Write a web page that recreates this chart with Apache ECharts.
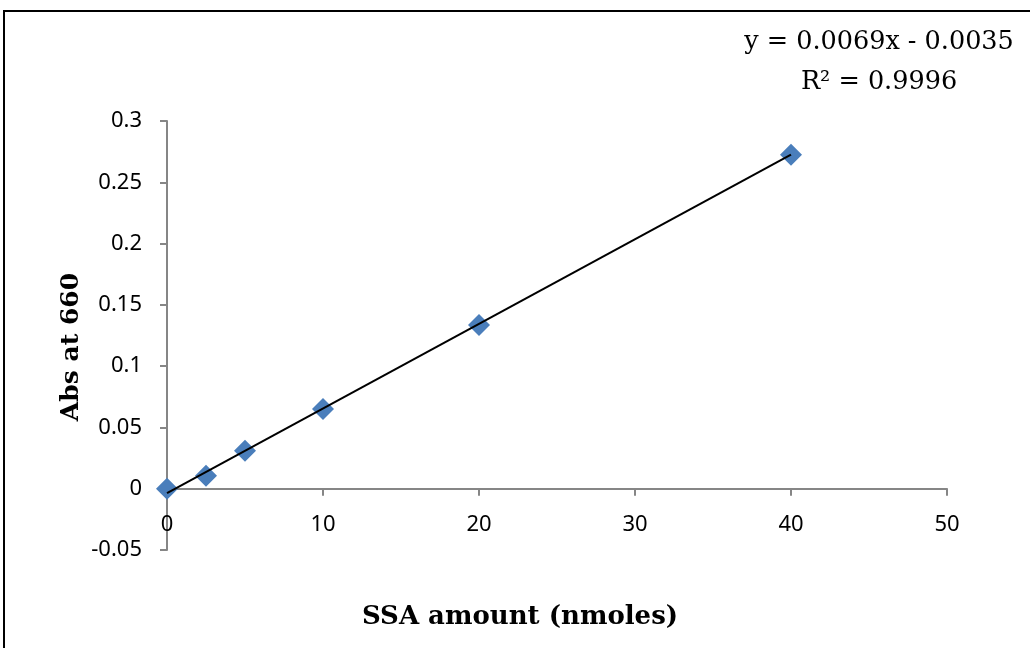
<!DOCTYPE html>
<html><head><meta charset="utf-8">
<script src="https://cdn.jsdelivr.net/npm/echarts@6/dist/echarts.min.js"></script>
<style>html,body{margin:0;padding:0;background:#fff}#c{width:1030px;height:648px}</style>
</head><body><div id="c"></div>
<script>
const xValues = [0, 2.5, 5, 10, 20, 40];
const yValues = [0, 0.0105, 0.031, 0.065, 0.1335, 0.2725];
const trendX = [0, 40];
const trendY = [-0.0035, 0.2725];
const xTicks = [0, 10, 20, 30, 40, 50];
const yTicks = [-0.05, 0, 0.05, 0.1, 0.15, 0.2, 0.25, 0.3];
const equationText = 'y = 0.0069x - 0.0035';
const r2Text = 'R² = 0.9996';
const xTitle = 'SSA amount (nmoles)';
const yTitle = 'Abs at 660';

const GRID = {left: 167, right: 83, top: 121, bottom: 98};
const plotH = 648 - GRID.top - GRID.bottom;
const yMin = yTicks[0], yMax = yTicks[yTicks.length - 1];
const zeroOffset = -plotH * (0 - yMin) / (yMax - yMin);

const chart = echarts.init(document.getElementById('c'), null, {renderer: 'canvas'});
const tickFont = '"Noto Sans", "Open Sans", sans-serif';
const serif = '"DejaVu Serif", "Liberation Serif", serif';
const axisGray = '#868686';
chart.setOption({
  animation: false,
  backgroundColor: '#fff',
  grid: GRID,
  xAxis: {
    type: 'value', min: xTicks[0], max: xTicks[xTicks.length - 1], interval: 10,
    offset: zeroOffset,
    axisLine: {onZero: false, lineStyle: {color: axisGray, width: 2}},
    axisTick: {show: true, length: 7, inside: false, lineStyle: {color: axisGray, width: 2}},
    axisLabel: {color: '#000', fontFamily: tickFont, fontSize: 22, margin: 25},
    splitLine: {show: false}
  },
  yAxis: {
    type: 'value', min: yMin, max: yMax, interval: 0.05,
    axisLine: {show: true, lineStyle: {color: axisGray, width: 2}},
    axisTick: {show: true, length: 7, lineStyle: {color: axisGray, width: 2}},
    axisLabel: {color: '#000', fontFamily: tickFont, fontSize: 22, margin: 25,
      formatter: v => String(Math.round(v * 100) / 100)},
    splitLine: {show: false}
  },
  series: [
    {type: 'line', data: trendX.map((x, i) => [x, trendY[i]]), symbol: 'none',
     lineStyle: {color: '#000', width: 2}, z: 3},
    {type: 'scatter', data: xValues.map((x, i) => [x, yValues[i]]), symbol: 'diamond',
     symbolSize: 22, itemStyle: {color: '#4a7ebb', opacity: 1}, z: 2}
  ],
  graphic: [
    {type: 'rect', shape: {x: 4, y: 11, width: 1100, height: 700}, style: {fill: 'none', stroke: '#000', lineWidth: 2}, silent: true},
    {type: 'text', x: 879, y: 42, style: {text: equationText, fontFamily: serif, fontSize: 25.5, fill: '#000', align: 'center', verticalAlign: 'middle'}},
    {type: 'text', x: 879, y: 82, style: {text: r2Text, fontFamily: serif, fontSize: 25.5, fill: '#000', align: 'center', verticalAlign: 'middle'}},
    {type: 'text', x: 520, y: 617, style: {text: xTitle, fontFamily: serif, fontWeight: 'bold', fontSize: 26, fill: '#000', align: 'center', verticalAlign: 'middle'}},
    {type: 'text', x: 71, y: 347, rotation: Math.PI / 2, style: {text: yTitle, fontFamily: serif, fontWeight: 'bold', fontSize: 25, fill: '#000', align: 'center', verticalAlign: 'middle'}}
  ]
});
</script></body></html>
